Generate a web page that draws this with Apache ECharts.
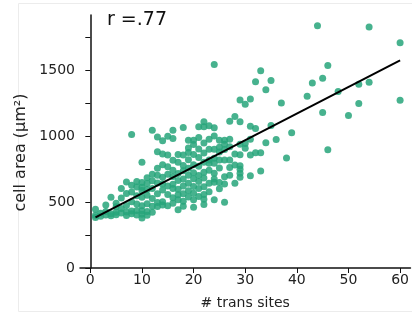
<!DOCTYPE html>
<html>
<head>
<meta charset="utf-8">
<script src="https://cdn.jsdelivr.net/npm/echarts@6/dist/echarts.min.js"></script>
<style>
  html, body { margin: 0; padding: 0; background: #fff; }
  #chart { width: 412px; height: 320px; }
</style>
</head>
<body>
<div id="chart"></div>
<script>
// number of trans sites (one entry per column of dots)
const siteCounts = [1, 2, 3, 4, 5, 6, 7, 8, 9, 10, 11, 12, 13, 14, 15, 16, 17, 18, 19, 20,
    21, 22, 23, 24, 25, 26, 27, 28, 29, 30, 31, 32, 33, 34, 35, 36, 37, 38, 39, 42,
    43, 44, 45, 46, 48, 50, 52, 54, 60];

const cellAreas = [
    [383, 446, 400],
    [416, 392],
    [479, 403, 428],
    [537, 412, 396],
    [492, 424, 465, 405],
    [603, 532, 418, 452],
    [652, 566, 425, 474, 398],
    [1013, 628, 577, 503, 433, 411],
    [657, 615, 548, 486, 437, 402],
    [802, 648, 612, 588, 536, 473, 434, 408, 379],
    [684, 642, 596, 553, 487, 428, 401],
    [1046, 712, 663, 604, 527, 468, 423],
    [995, 882, 757, 703, 646, 563, 498, 466],
    [965, 866, 783, 688, 637, 592, 503, 478],
    [1000, 857, 768, 712, 623, 557, 473],
    [1046, 983, 818, 742, 694, 636, 604, 533, 491],
    [862, 803, 718, 664, 597, 556, 518, 443],
    [1066, 858, 777, 738, 676, 622, 563, 506, 468],
    [970, 911, 876, 822, 757, 703, 643, 586, 538],
    [970, 938, 862, 784, 722, 677, 618, 567, 517, 461],
    [1071, 990, 903, 838, 773, 702, 657, 603, 542],
    [1109, 1071, 948, 872, 803, 727, 683, 617, 557, 522, 481],
    [1079, 978, 902, 819, 794, 741, 643, 578],
    [1545, 1064, 1001, 902, 832, 794, 719, 675, 650, 517],
    [970, 917, 881, 819, 758, 648, 602],
    [970, 940, 899, 819, 693, 638, 499],
    [1114, 978, 920, 819, 762, 704],
    [1150, 865, 782, 643],
    [1275, 1109, 940, 860, 776, 749, 719, 688],
    [1243, 945, 908],
    [1283, 1076, 978, 858, 700],
    [1414, 1059, 875],
    [1497, 875, 736],
    [1352, 950],
    [1422, 1082],
    [976],
    [1253],
    [834],
    [1026],
    [1303],
    [1404],
    [1838],
    [1440, 1180],
    [1536, 897],
    [1339],
    [1157],
    [1394, 1248],
    [1828, 1409],
    [1710, 1273]
];

// fitted line, read at its two ends
const fitSites = [1, 60];
const fitAreas = [385, 1575];

const xTicks = [0, 10, 20, 30, 40, 50, 60];
const yTicks = [0, 250, 500, 750, 1000, 1250, 1500, 1750];
const yLabels = [0, 500, 1000, 1500];

let points = [];
siteCounts.forEach(function (s, i) {
    cellAreas[i].forEach(function (a) {
        points.push([s, a]);
    });
});

let fitLine = fitSites.map(function (s, i) {
    return [s, fitAreas[i]];
});

const font = 'DejaVu Sans';

let option = {
    animation: false,
    backgroundColor: '#fff',
    grid: {
        left: 80,
        right: 0,
        top: 15,
        bottom: 52
    },
    graphic: [
        {
            type: 'rect',
            left: 16,
            top: 1,
            shape: { width: 420, height: 308 },
            style: { fill: 'none', stroke: '#ececec', lineWidth: 1 },
            z: -10
        },
        {
            type: 'text',
            left: 107,
            top: 11,
            style: {
                text: 'r =.77',
                fontFamily: font,
                fontSize: 19,
                fill: '#111'
            }
        }
    ],
    xAxis: {
        type: 'value',
        min: -2,
        max: 62,
        name: '# trans sites',
        nameLocation: 'middle',
        nameGap: 28,
        nameTextStyle: { fontFamily: font, fontSize: 14, color: '#222' },
        splitLine: { show: false },
        axisLine: { lineStyle: { color: '#111', width: 1.5 } },
        axisTick: { customValues: xTicks, length: 5, lineStyle: { color: '#111' } },
        axisLabel: {
            customValues: xTicks,
            margin: 5,
            fontFamily: font,
            fontSize: 14,
            color: '#222',
            formatter: function (v) { return String(v); }
        }
    },
    yAxis: {
        type: 'value',
        min: 0,
        max: 1920,
        name: 'cell area (µm²)',
        nameLocation: 'middle',
        nameGap: 48,
        nameTextStyle: { fontFamily: font, fontSize: 16, color: '#222', padding: [0, 22, 0, 0] },
        splitLine: { show: false },
        axisLine: { show: true, lineStyle: { color: '#111', width: 1.5 } },
        axisTick: { show: true, customValues: yTicks, length: 5, lineStyle: { color: '#111' } },
        axisLabel: {
            customValues: yLabels,
            margin: 5,
            fontFamily: font,
            fontSize: 14,
            color: '#222',
            formatter: function (v) { return String(v); }
        }
    },
    series: [
        {
            type: 'scatter',
            data: points,
            symbolSize: 7,
            itemStyle: { color: '#27a57a', opacity: 0.85 },
            z: 2
        },
        {
            type: 'line',
            data: fitLine,
            symbol: 'none',
            lineStyle: { color: '#000', width: 2 },
            z: 3
        }
    ]
};

let chart = echarts.init(document.getElementById('chart'));
chart.setOption(option);
</script>
</body>
</html>
